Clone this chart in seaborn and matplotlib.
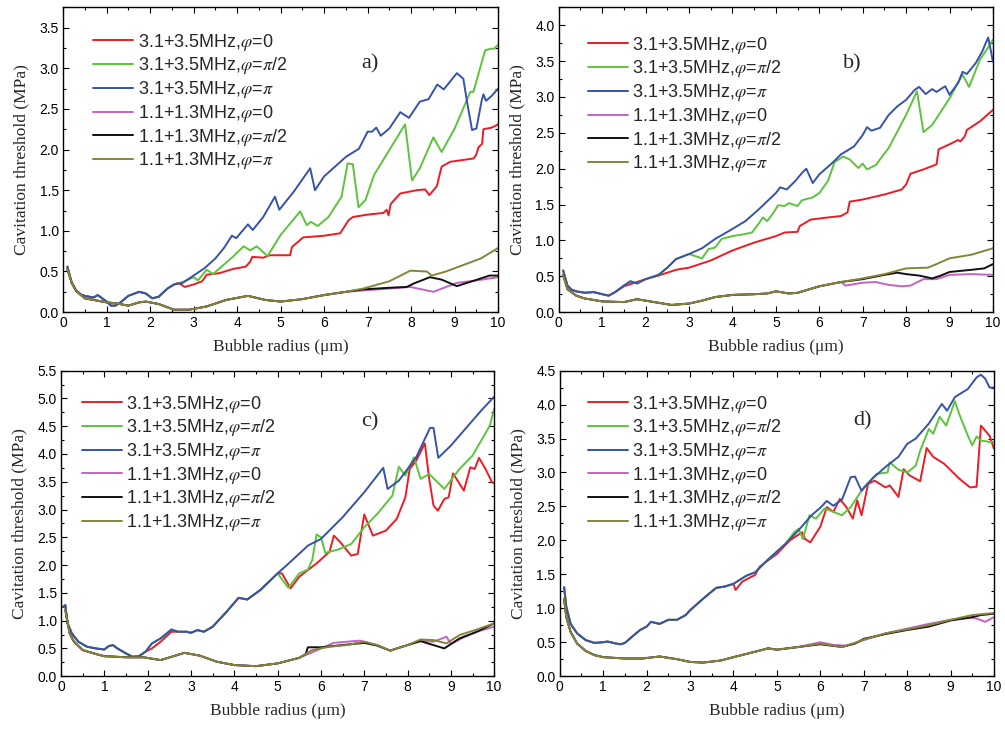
import pandas as pd
import seaborn as sns
import matplotlib.pyplot as plt
from matplotlib.ticker import MultipleLocator, FormatStrFormatter

# legend labels / colours (same in all four panels)
labels = ['3.1+3.5MHz,$\\varphi$=0', '3.1+3.5MHz,$\\varphi$=$\\pi$/2', '3.1+3.5MHz,$\\varphi$=$\\pi$',
          '1.1+1.3MHz,$\\varphi$=0', '1.1+1.3MHz,$\\varphi$=$\\pi$/2', '1.1+1.3MHz,$\\varphi$=$\\pi$']
colors = ['#ec1c24', '#5cc43c', '#3652aa', '#c662c6', '#111111', '#85853a']

# ---------------- panel a ----------------
a_x0 = [0.1, 0.2, 0.3, 0.4, 0.5, 0.6, 0.7, 0.8, 0.9, 1.0, 1.1, 1.2, 1.3, 1.5, 1.75, 1.9, 2.05, 2.2, 2.4, 2.55]
a_y0 = [0.56, 0.36, 0.27, 0.22, 0.20, 0.19, 0.18, 0.21, 0.17, 0.13, 0.08, 0.08, 0.11, 0.20, 0.25, 0.23, 0.17, 0.19, 0.29, 0.34]
a_red_x = a_x0 + [2.65, 2.8, 3.0, 3.2, 3.3, 3.6, 3.9, 4.2, 4.3, 4.35, 4.6, 4.76, 5.22, 5.26, 5.52, 6.0, 6.37, 6.56, 6.66, 7.0,
                  7.36, 7.44, 7.48, 7.53, 7.75, 8.13, 8.32, 8.42, 8.59, 8.7, 8.9, 9.43, 9.49, 9.55, 9.63, 9.66, 9.85, 10.0]
a_red_y = a_y0 + [0.36, 0.31, 0.34, 0.38, 0.46, 0.48, 0.53, 0.56, 0.62, 0.68, 0.67, 0.70, 0.70, 0.80, 0.92, 0.94, 0.97, 1.13, 1.17, 1.20,
                  1.22, 1.26, 1.19, 1.33, 1.46, 1.50, 1.51, 1.44, 1.55, 1.79, 1.85, 1.89, 1.93, 2.03, 2.07, 2.25, 2.27, 2.31]
a_green_x = a_x0 + [2.75, 3.0, 3.1, 3.3, 3.45, 3.6, 3.9, 4.15, 4.3, 4.45, 4.7, 5.0, 5.25, 5.45, 5.6, 5.7, 5.85, 6.1, 6.4, 6.54,
                    6.66, 6.79, 6.95, 7.15, 7.86, 8.02, 8.2, 8.51, 8.7, 9.0, 9.36, 9.43, 9.7, 9.82, 9.9, 10.0]
a_green_y = a_y0 + [0.37, 0.43, 0.39, 0.52, 0.47, 0.54, 0.68, 0.81, 0.76, 0.81, 0.69, 0.95, 1.11, 1.24, 1.07, 1.11, 1.06, 1.17, 1.42, 1.83,
                    1.82, 1.29, 1.38, 1.69, 2.31, 1.62, 1.77, 2.15, 1.97, 2.26, 2.71, 2.71, 3.22, 3.24, 3.24, 3.29]
a_blue_x = a_x0 + [2.75, 3.0, 3.25, 3.5, 3.7, 3.88, 3.98, 4.25, 4.36, 4.6, 4.87, 4.97, 5.3, 5.68, 5.79, 6.0, 6.5, 6.8, 7.0, 7.1,
                   7.2, 7.3, 7.5, 7.75, 7.95, 8.2, 8.4, 8.6, 8.75, 9.05, 9.2, 9.28, 9.4, 9.5, 9.62, 9.66, 9.72, 9.85, 10.0]
a_blue_y = a_y0 + [0.36, 0.45, 0.54, 0.66, 0.79, 0.94, 0.91, 1.08, 1.01, 1.17, 1.42, 1.26, 1.48, 1.77, 1.50, 1.67, 1.91, 2.01, 2.22, 2.22,
                   2.27, 2.17, 2.26, 2.46, 2.39, 2.59, 2.62, 2.80, 2.74, 2.94, 2.87, 2.60, 2.24, 2.26, 2.60, 2.68, 2.60, 2.66, 2.75]
a_lx0 = [0.1, 0.2, 0.3, 0.5, 0.8, 1.0, 1.2, 1.5, 1.75, 1.9, 2.2, 2.55, 2.9, 3.3, 3.75, 4.25, 4.65, 5.0, 5.5, 6.0, 6.5]
a_ly0 = [0.53, 0.36, 0.26, 0.17, 0.14, 0.12, 0.11, 0.08, 0.12, 0.13, 0.10, 0.03, 0.03, 0.07, 0.15, 0.20, 0.15, 0.13, 0.16, 0.21, 0.25]
a_mag_x = a_lx0 + [6.98, 7.5, 7.98, 8.51, 9.05, 9.5, 10.0]
a_mag_y = a_ly0 + [0.27, 0.29, 0.31, 0.25, 0.36, 0.39, 0.43]
a_blk_x = a_lx0 + [6.9, 7.5, 7.9, 8.05, 8.43, 8.7, 9.05, 9.52, 9.8, 10.0]
a_blk_y = a_ly0 + [0.28, 0.30, 0.31, 0.35, 0.43, 0.40, 0.32, 0.40, 0.45, 0.45]
a_olv_x = a_lx0 + [6.9, 7.5, 7.98, 8.36, 8.47, 8.8, 9.2, 9.6, 10.0]
a_olv_y = a_ly0 + [0.29, 0.38, 0.51, 0.50, 0.45, 0.50, 0.58, 0.66, 0.79]

# ---------------- panel b ----------------
b_x0 = [0.1, 0.2, 0.3, 0.4, 0.6, 0.8, 1.0, 1.15, 1.3, 1.5, 1.65, 1.8, 2.0, 2.3, 2.5, 2.7, 3.0]
b_y0 = [0.58, 0.37, 0.31, 0.29, 0.27, 0.28, 0.25, 0.23, 0.28, 0.37, 0.43, 0.40, 0.46, 0.52, 0.62, 0.74, 0.81]
b_red_x = b_x0[:9] + [1.5, 2.0, 2.3, 2.7, 3.0, 3.5, 4.0, 4.5, 5.0, 5.2, 5.5, 5.55, 5.8, 6.2, 6.5, 6.65, 6.7, 7.0, 7.5, 7.9,
                      8.0, 8.1, 8.4, 8.7, 8.75, 9.0, 9.2, 9.25, 9.35, 9.4, 9.7, 10.0]
b_red_y = b_y0[:9] + [0.36, 0.46, 0.51, 0.59, 0.62, 0.72, 0.86, 0.97, 1.06, 1.11, 1.12, 1.20, 1.29, 1.32, 1.34, 1.39, 1.54, 1.57, 1.64, 1.71,
                      1.78, 1.93, 1.99, 2.06, 2.27, 2.34, 2.40, 2.38, 2.45, 2.54, 2.66, 2.82]
b_green_x = b_x0 + [3.3, 3.45, 3.6, 3.75, 4.0, 4.3, 4.45, 4.6, 4.7, 4.8, 4.95, 5.05, 5.2, 5.3, 5.5, 5.6, 5.85, 6.0, 6.2, 6.35,
                    6.55, 6.7, 6.9, 7.0, 7.1, 7.3, 7.6, 8.0, 8.25, 8.4, 8.6, 9.0, 9.3, 9.45, 9.7, 9.9, 10.0]
b_green_y = b_y0 + [0.75, 0.88, 0.90, 1.02, 1.06, 1.09, 1.11, 1.23, 1.32, 1.27, 1.39, 1.49, 1.48, 1.52, 1.48, 1.56, 1.60, 1.66, 1.83, 2.09,
                    2.17, 2.13, 2.01, 2.07, 1.99, 2.05, 2.29, 2.75, 3.08, 2.51, 2.61, 2.98, 3.31, 3.14, 3.52, 3.70, 3.80]
b_blue_x = b_x0 + [3.3, 3.6, 4.0, 4.3, 4.6, 5.0, 5.1, 5.25, 5.45, 5.6, 5.7, 5.85, 6.0, 6.3, 6.5, 6.8, 7.0, 7.1, 7.2, 7.4,
                   7.6, 7.8, 8.0, 8.2, 8.3, 8.45, 8.6, 8.7, 8.8, 8.9, 9.0, 9.2, 9.3, 9.4, 9.6, 9.75, 9.89, 9.95, 10.0]
b_blue_y = b_y0 + [0.89, 1.02, 1.16, 1.27, 1.43, 1.66, 1.74, 1.71, 1.83, 1.94, 2.00, 1.80, 1.92, 2.08, 2.20, 2.31, 2.47, 2.58, 2.53, 2.57,
                   2.75, 2.87, 2.96, 3.10, 3.14, 3.04, 3.11, 3.07, 3.11, 3.15, 3.03, 3.20, 3.35, 3.32, 3.47, 3.63, 3.83, 3.65, 3.49]
b_lx0 = [0.1, 0.2, 0.4, 0.6, 0.8, 1.0, 1.5, 1.8, 2.0, 2.3, 2.6, 3.0, 3.3, 3.6, 4.0, 4.5, 4.8, 5.0, 5.3, 5.5, 6.0, 6.5]
b_ly0 = [0.52, 0.32, 0.23, 0.19, 0.17, 0.15, 0.14, 0.18, 0.16, 0.13, 0.10, 0.12, 0.16, 0.21, 0.24, 0.25, 0.26, 0.29, 0.26, 0.27, 0.36, 0.42]
b_mag_x = b_lx0 + [6.6, 7.0, 7.3, 7.6, 7.9, 8.1, 8.2, 8.4, 8.7, 9.0, 9.5, 10.0]
b_mag_y = b_ly0 + [0.37, 0.41, 0.42, 0.38, 0.36, 0.37, 0.40, 0.46, 0.46, 0.52, 0.53, 0.52]
b_blk_x = b_lx0 + [7.0, 7.5, 7.8, 8.0, 8.3, 8.6, 8.8, 9.0, 9.5, 9.8, 10.0]
b_blk_y = b_ly0 + [0.46, 0.52, 0.55, 0.53, 0.51, 0.47, 0.51, 0.56, 0.59, 0.61, 0.67]
b_olv_x = b_lx0 + [7.0, 7.5, 8.0, 8.5, 8.7, 9.0, 9.5, 10.0]
b_olv_y = b_ly0 + [0.47, 0.53, 0.61, 0.62, 0.67, 0.75, 0.80, 0.89]

# ---------------- panel c ----------------
c_x0 = [0.05, 0.1, 0.15, 0.25, 0.4, 0.6, 0.8, 1.0, 1.1, 1.2, 1.3, 1.5, 1.65, 1.8, 1.95]
c_y0 = [1.25, 1.28, 0.95, 0.77, 0.62, 0.53, 0.50, 0.48, 0.54, 0.56, 0.50, 0.41, 0.35, 0.36, 0.44]
c_x1 = [2.1, 2.3, 2.55, 2.7, 2.9, 3.0, 3.15, 3.3, 3.5, 3.8, 4.0, 4.1, 4.3, 4.6, 5.0]
c_y1 = [0.59, 0.68, 0.84, 0.80, 0.80, 0.78, 0.83, 0.80, 0.89, 1.14, 1.32, 1.41, 1.38, 1.55, 1.85]
c_red_x = c_x0 + [2.1, 2.3, 2.55] + c_x1[3:] + [5.1, 5.3, 5.5, 5.9, 6.2, 6.3, 6.45, 6.7, 6.85, 7.0,
                                                7.2, 7.5, 7.75, 7.95, 8.05, 8.2, 8.4, 8.5, 8.6, 8.7,
                                                8.85, 8.95, 9.05, 9.3, 9.45, 9.55, 9.65, 9.8, 9.95, 10.0]
c_red_y = c_y0 + [0.50, 0.62, 0.80] + c_y1[3:] + [1.85, 1.58, 1.79, 2.03, 2.24, 2.53, 2.41, 2.17, 2.20, 2.91,
                                                  2.53, 2.62, 2.83, 3.22, 3.73, 3.88, 4.19, 3.55, 3.07, 2.98,
                                                  3.19, 3.22, 3.65, 3.34, 3.76, 3.73, 3.93, 3.73, 3.49, 3.47]
c_green_x = c_x0 + c_x1 + [5.25, 5.5, 5.7, 5.8, 5.9, 6.0, 6.1, 6.4, 6.7, 7.0, 7.3, 7.65, 7.8, 7.95, 8.15, 8.3, 8.5, 8.85,
                           9.2, 9.5, 9.7, 9.9, 10.0]
c_green_y = c_y0 + c_y1 + [1.59, 1.85, 1.92, 2.09, 2.55, 2.50, 2.22, 2.28, 2.38, 2.68, 2.92, 3.25, 3.77, 3.61, 3.94, 3.55, 3.64, 3.37,
                           3.73, 3.97, 4.24, 4.51, 4.81]
c_blue_x = c_x0 + c_x1 + [5.3, 5.7, 6.0, 6.5, 7.0, 7.44, 7.54, 7.8, 8.2, 8.52, 8.6, 8.71, 9.0, 9.5, 9.7, 10.0]
c_blue_y = c_y0 + c_y1 + [2.06, 2.35, 2.47, 2.86, 3.31, 3.75, 3.37, 3.52, 3.94, 4.47, 4.47, 3.93, 4.15, 4.60, 4.78, 5.03]
c_lx0 = [0.1, 0.2, 0.3, 0.5, 0.8, 1.0, 1.5, 1.9, 2.3, 2.6, 2.85, 3.2, 3.6, 4.0, 4.5, 5.0, 5.5]
c_ly0 = [1.19, 0.77, 0.62, 0.47, 0.40, 0.36, 0.34, 0.34, 0.29, 0.36, 0.42, 0.37, 0.26, 0.20, 0.18, 0.23, 0.33]
c_mag_x = c_lx0 + [5.8, 6.3, 6.9, 7.3, 7.6, 8.0, 8.3, 8.6, 8.9, 9.0, 9.3, 9.6, 10.0]
c_mag_y = c_ly0 + [0.43, 0.60, 0.64, 0.56, 0.46, 0.56, 0.64, 0.62, 0.71, 0.58, 0.70, 0.80, 0.89]
c_blk_x = c_lx0 + [5.65, 5.7, 6.0, 6.5, 7.0, 7.3, 7.6, 8.0, 8.3, 8.85, 9.2, 9.6, 10.0]
c_blk_y = c_ly0 + [0.40, 0.52, 0.52, 0.56, 0.60, 0.55, 0.46, 0.56, 0.63, 0.50, 0.68, 0.80, 0.95]
c_olv_x = c_lx0 + [5.8, 6.2, 6.6, 7.0, 7.3, 7.6, 8.0, 8.3, 8.6, 8.9, 9.2, 9.6, 10.0]
c_olv_y = c_ly0 + [0.47, 0.53, 0.56, 0.62, 0.56, 0.46, 0.56, 0.66, 0.65, 0.59, 0.74, 0.84, 0.95]

# ---------------- panel d ----------------
d_x0 = [0.1, 0.15, 0.25, 0.4, 0.6, 0.8, 1.0, 1.1, 1.3, 1.4, 1.5, 1.7, 1.85, 2.0, 2.1, 2.3, 2.5, 2.7, 2.9, 3.0,
        3.3, 3.6, 3.8, 4.0]
d_y0 = [1.31, 1.02, 0.77, 0.63, 0.53, 0.49, 0.50, 0.51, 0.48, 0.47, 0.49, 0.60, 0.68, 0.73, 0.80, 0.77, 0.83, 0.83, 0.90, 0.97,
        1.14, 1.30, 1.32, 1.36]
d_x1 = [4.3, 4.5, 4.8, 5.2]
d_y1 = [1.48, 1.53, 1.72, 1.95]
d_red_x = d_x0 + [4.05, 4.2, 4.4, 4.5, 4.6, 5.0, 5.3, 5.58, 5.65, 5.77, 6.0, 6.15, 6.3, 6.45, 6.6, 6.75, 6.85, 6.95, 7.1, 7.25,
                  7.5, 7.6, 7.8, 7.92, 8.05, 8.3, 8.45, 8.6, 8.85, 9.2, 9.45, 9.6, 9.7, 9.9, 10.0]
d_red_y = d_y0 + [1.27, 1.39, 1.46, 1.49, 1.61, 1.80, 2.00, 2.12, 2.02, 1.97, 2.20, 2.49, 2.42, 2.61, 2.49, 2.32, 2.59, 2.37, 2.83, 2.88,
                  2.78, 2.81, 2.64, 3.05, 2.96, 2.87, 3.36, 3.23, 3.13, 2.91, 2.78, 2.79, 3.69, 3.54, 3.35]
d_green_x = d_x0 + d_x1 + [5.4, 5.5, 5.6, 5.75, 5.9, 6.1, 6.3, 6.5, 6.7, 7.0, 7.3, 7.55, 7.6, 7.8, 8.0, 8.2, 8.3, 8.5, 8.6, 8.75,
                           8.9, 9.1, 9.2, 9.4, 9.5, 9.6, 9.7, 9.9, 10.0]
d_green_y = d_y0 + d_y1 + [2.12, 2.17, 2.02, 2.37, 2.32, 2.47, 2.42, 2.37, 2.49, 2.78, 2.98, 3.00, 3.15, 3.04, 3.00, 3.10, 3.32, 3.64, 3.57, 3.82,
                           3.69, 4.05, 3.86, 3.54, 3.40, 3.53, 3.47, 3.45, 3.45]
d_blue_x = d_x0 + d_x1 + [5.5, 5.8, 6.0, 6.15, 6.3, 6.5, 6.7, 6.8, 6.95, 7.2, 7.5, 7.8, 8.0, 8.2, 8.5, 8.8, 8.92, 9.1, 9.4, 9.6,
                          9.7, 9.8, 9.9, 10.0]
d_blue_y = d_y0 + d_y1 + [2.15, 2.37, 2.48, 2.58, 2.51, 2.60, 2.93, 2.94, 2.73, 2.91, 3.08, 3.23, 3.42, 3.50, 3.72, 4.01, 3.91, 4.11, 4.23, 4.40,
                          4.44, 4.38, 4.25, 4.25]
d_lx0 = [0.1, 0.15, 0.25, 0.4, 0.6, 0.8, 1.0, 1.5, 1.9, 2.3, 2.7, 3.0, 3.3, 3.7, 4.0, 4.5, 4.8, 5.0, 5.5]
d_ly0 = [1.14, 0.87, 0.65, 0.48, 0.37, 0.31, 0.28, 0.26, 0.26, 0.29, 0.25, 0.21, 0.20, 0.23, 0.28, 0.36, 0.41, 0.39, 0.43]
d_mag_x = d_lx0 + [6.0, 6.3, 6.6, 7.0, 7.5, 8.0, 8.5, 9.0, 9.5, 9.6, 9.8, 10.0]
d_mag_y = d_ly0 + [0.50, 0.46, 0.45, 0.53, 0.63, 0.70, 0.77, 0.83, 0.86, 0.85, 0.80, 0.87]
d_blk_x = d_lx0 + [6.0, 6.5, 6.8, 7.0, 7.5, 8.0, 8.5, 9.0, 9.5, 9.7, 10.0]
d_blk_y = d_ly0 + [0.47, 0.43, 0.48, 0.55, 0.62, 0.68, 0.73, 0.82, 0.87, 0.90, 0.92]
d_olv_x = d_lx0 + [6.0, 6.5, 6.8, 7.0, 7.5, 8.0, 8.5, 9.0, 9.5, 10.0]
d_olv_y = d_ly0 + [0.48, 0.43, 0.49, 0.54, 0.63, 0.69, 0.75, 0.83, 0.90, 0.93]

panels = [
    ('a)', 3.75, [(a_red_x, a_red_y), (a_green_x, a_green_y), (a_blue_x, a_blue_y),
                  (a_mag_x, a_mag_y), (a_blk_x, a_blk_y), (a_olv_x, a_olv_y)]),
    ('b)', 4.25, [(b_red_x, b_red_y), (b_green_x, b_green_y), (b_blue_x, b_blue_y),
                  (b_mag_x, b_mag_y), (b_blk_x, b_blk_y), (b_olv_x, b_olv_y)]),
    ('c)', 5.5, [(c_red_x, c_red_y), (c_green_x, c_green_y), (c_blue_x, c_blue_y),
                 (c_mag_x, c_mag_y), (c_blk_x, c_blk_y), (c_olv_x, c_olv_y)]),
    ('d)', 4.5, [(d_red_x, d_red_y), (d_green_x, d_green_y), (d_blue_x, d_blue_y),
                 (d_mag_x, d_mag_y), (d_blk_x, d_blk_y), (d_olv_x, d_olv_y)]),
]

# axes rectangles (figure fractions) and legend / label anchors
rects = [[0.0627, 0.573, 0.433, 0.417], [0.556, 0.573, 0.432, 0.417],
         [0.0607, 0.075, 0.431, 0.418], [0.557, 0.075, 0.432, 0.418]]
leg_pos = [(0.07, 0.92), (0.067, 0.91), (0.049, 0.925), (0.065, 0.925)]
tag_pos = [(0.706, 0.816), (0.677, 0.816), (0.714, 0.833), (0.697, 0.837)]

sns.set_style('ticks')
plt.rcParams['font.family'] = ['Liberation Sans', 'DejaVu Sans']
plt.rcParams.update({
    'mathtext.fontset': 'stix',
    'xtick.direction': 'in', 'ytick.direction': 'in',
    'xtick.top': True, 'ytick.right': True,
    'xtick.major.size': 4, 'ytick.major.size': 4,
    'xtick.minor.size': 2.5, 'ytick.minor.size': 2.5,
    'xtick.major.width': 0.8, 'ytick.major.width': 0.8,
    'xtick.minor.width': 0.8, 'ytick.minor.width': 0.8,
    'xtick.color': 'black', 'ytick.color': 'black',
    'axes.edgecolor': 'black', 'axes.linewidth': 1.0,
    'xtick.labelsize': 10, 'ytick.labelsize': 10,
})

fig = plt.figure(figsize=(10.05, 7.31), dpi=100)
serif = ['Liberation Serif', 'DejaVu Serif']

for k, (tag, ytop, series) in enumerate(panels):
    ax = fig.add_axes(rects[k])
    frames = [pd.DataFrame({'x': xs, 'y': ys, 'series': labels[i]}) for i, (xs, ys) in enumerate(series)]
    df = pd.concat(frames, ignore_index=True)
    sns.lineplot(data=df, x='x', y='y', hue='series', hue_order=labels, palette=colors,
                 sort=False, estimator=None, lw=1.4, legend=False, ax=ax)

    ax.set_xlim(0, 10)
    ax.set_ylim(0, ytop)
    ax.xaxis.set_major_locator(MultipleLocator(1))
    ax.xaxis.set_minor_locator(MultipleLocator(0.5))
    ax.yaxis.set_major_locator(MultipleLocator(0.5))
    ax.yaxis.set_minor_locator(MultipleLocator(0.25))
    ax.yaxis.set_major_formatter(FormatStrFormatter('%.1f'))
    ax.tick_params(which='both', top=True, right=True, pad=3)

    ax.set_xlabel('Bubble radius (μm)', family=serif, fontsize=12.5, labelpad=6)
    ax.set_ylabel('Cavitation threshold (MPa)', family=serif, fontsize=12.5, labelpad=7)
    ax.text(tag_pos[k][0], tag_pos[k][1], tag, transform=ax.transAxes, family=serif,
            fontsize=16, ha='center', va='center')

    ax.legend(ax.lines[:6], labels, loc='upper left', bbox_to_anchor=leg_pos[k], frameon=False,
              fontsize=13, handlelength=2.2, handletextpad=0.25, labelspacing=0.15,
              borderpad=0, borderaxespad=0)

fig.savefig('out.png', dpi=100)
